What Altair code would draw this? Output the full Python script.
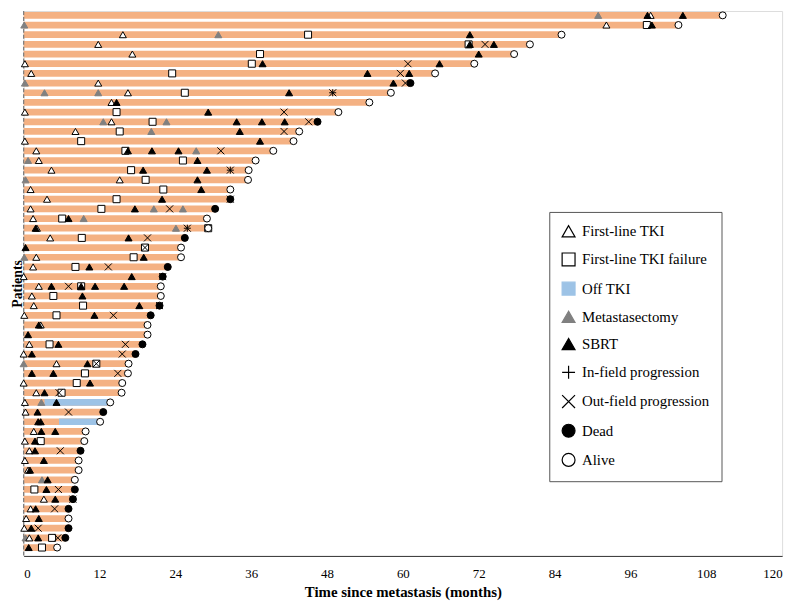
import altair as alt
import pandas as pd

# ---- data (months since metastasis) ----
end_time = [110.6, 103.6, 85.1, 80.1, 77.6, 71.3, 65.1, 61.2, 58.1, 54.7,
            49.8, 46.5, 43.6, 42.7, 39.5, 36.7, 35.6, 35.5, 32.7, 32.7,
            30.3, 29.0, 29.2, 25.5, 24.9, 24.9, 22.8, 22.0, 21.7, 21.7,
            21.5, 20.1, 19.6, 19.6, 18.8, 17.7, 16.6, 16.5, 15.6, 15.5,
            13.7, 12.6, 12.1, 9.8, 9.6, 9.0, 8.7, 8.7, 8.1, 8.1,
            7.8, 7.1, 7.1, 7.1, 6.6, 5.3]
end_status = ["Alive"] * 7 + ["Dead"] + ["Alive"] * 3 + ["Dead"] + ["Alive"] * 7 + \
             ["Dead", "Dead", "Alive", "Alive", "Dead", "Alive", "Alive", "Dead", "Dead",
              "Alive", "Alive", "Dead", "Dead", "Alive", "Alive", "Dead", "Dead",
              "Alive", "Alive", "Alive", "Alive", "Alive", "Dead", "Alive", "Alive", "Alive",
              "Dead", "Alive", "Alive", "Alive", "Dead", "Dead", "Dead", "Alive", "Dead", "Dead", "Alive"]

first_tki = [(1, 99.2), (2, 92.2), (3, 15.7), (4, 11.8), (5, 17.2), (6, 0.2), (7, 1.2),
             (8, 11.8), (9, 16.5), (10, 13.9), (11, 0.2), (12, 13.9), (13, 8.2), (14, 0.2),
             (15, 2.0), (16, 2.4), (17, 4.4), (18, 15.2), (19, 1.1), (20, 3.7), (21, 1.1),
             (22, 1.5), (23, 2.1), (24, 4.2), (26, 2.0), (27, 1.5), (28, 0.0), (29, 2.4),
             (30, 1.3), (31, 1.6), (32, 0.1), (33, 2.7), (35, 0.9), (36, 0.0), (37, 5.2),
             (39, 0.0), (40, 2.0), (41, 0.2), (42, 0.3), (44, 1.6), (45, 0.2), (46, 0.9),
             (47, 0.2), (48, 0.7), (51, 3.2), (52, 1.1), (53, 0.4), (54, 0.1), (55, 0.9)]

tki_failure = [(2, 98.6), (3, 45.0), (4, 70.4), (5, 37.4), (6, 36.1), (7, 23.5), (9, 25.5),
               (11, 14.7), (12, 20.4), (13, 15.2), (14, 9.1), (15, 16.1), (16, 25.2),
               (17, 17.0), (18, 19.3), (19, 22.1), (20, 14.7), (21, 12.3), (22, 6.1),
               (23, 29.2), (24, 9.2), (25, 19.2), (26, 17.4), (27, 8.2), (29, 9.1), (30, 4.7),
               (31, 9.4), (32, 5.2), (35, 4.1), (37, 11.5), (38, 9.7), (39, 8.4), (40, 6.0),
               (45, 2.7), (50, 1.7), (55, 4.5), (56, 2.9)]

off_tki_rows = [41, 43]
off_tki_start = [3.3, 5.6]
off_tki_end = [13.2, 11.7]

metastasectomy = [(1, 90.9), (2, 0.1), (3, 30.8), (7, 23.5), (8, 0.2), (9, 3.3), (9, 11.8),
                  (12, 12.6), (12, 22.6), (13, 20.2), (15, 27.3), (16, 0.7), (18, 0.3),
                  (21, 20.6), (21, 25.2), (22, 9.5), (23, 24.1), (24, 9.2), (26, 0.1),
                  (30, 4.7), (37, 0.0), (41, 2.8), (49, 2.9), (55, 0.3)]

sbrt = [(1, 98.7), (1, 104.3), (2, 99.4), (3, 70.6), (4, 70.6), (4, 74.4), (5, 72.0),
        (6, 37.8), (6, 65.8), (7, 54.4), (7, 61.0), (8, 58.5), (9, 42.0), (10, 14.7),
        (11, 29.2), (12, 33.7), (12, 37.7), (12, 41.3), (13, 34.2), (14, 37.4),
        (15, 16.5), (15, 20.3), (15, 24.5), (16, 27.5), (17, 18.9), (17, 29.0), (18, 27.5),
        (19, 28.1), (20, 21.9), (21, 17.6), (22, 7.1), (23, 1.9), (24, 16.6), (25, 0.3),
        (26, 19.0), (27, 10.4), (28, 17.1), (29, 4.4), (29, 9.1), (29, 11.3), (29, 15.9),
        (30, 9.3), (31, 18.3), (32, 11.2), (33, 2.4), (34, 0.7), (35, 5.5), (36, 1.3),
        (37, 10.1), (38, 1.3), (38, 4.7), (39, 10.5), (40, 3.3), (41, 5.2), (42, 2.2),
        (43, 2.3), (43, 2.7), (44, 2.8), (44, 5.0), (45, 1.8), (46, 1.8), (47, 3.2),
        (48, 1.0), (49, 3.8), (50, 3.6), (51, 5.0), (52, 1.9), (53, 2.4), (54, 1.2),
        (55, 2.3), (56, 0.8)]

in_field = [(9, 48.9), (17, 32.7), (23, 25.9)]

out_field = [(4, 73.0), (6, 60.8), (7, 59.6), (8, 60.4), (9, 48.9), (11, 41.2), (12, 45.1),
             (13, 41.2), (15, 31.2), (17, 32.7), (20, 32.7), (21, 23.1), (23, 25.9),
             (24, 19.6), (25, 19.2), (27, 13.4), (28, 22.0), (29, 7.1), (31, 21.5),
             (32, 14.2), (35, 16.1), (36, 15.6), (37, 11.5), (38, 14.9), (40, 5.6),
             (42, 7.1), (46, 5.8), (50, 5.5), (51, 7.8), (52, 4.9), (54, 2.3), (55, 5.4)]

legend_names = ["First-line TKI", "First-line TKI failure", "Off TKI", "Metastasectomy", "SBRT",
                "In-field progression", "Out-field progression", "Dead", "Alive"]

# ---- tables ----
rows = list(range(1, len(end_time) + 1))
bars = pd.DataFrame({"row": rows, "start": [0.0] * len(rows), "end": end_time})
off = pd.DataFrame({"row": off_tki_rows, "start": off_tki_start, "end": off_tki_end})

recs = []
for name, lst in [("Metastasectomy", metastasectomy), ("First-line TKI failure", tki_failure),
                  ("First-line TKI", first_tki), ("SBRT", sbrt),
                  ("In-field progression", in_field), ("Out-field progression", out_field)]:
    for r, t in lst:
        recs.append({"row": r, "time": t, "event": name})
for r, t, s in zip(rows, end_time, end_status):
    recs.append({"row": r, "time": t, "event": s})
events = pd.DataFrame(recs)

FONT = "Liberation Serif"
BAR = "#F4B183"
BLUE = "#9DC3E6"
GREY = "#808080"

shape_range = ["triangle-up", "square", "square", "triangle-up", "triangle-up",
               "M-1,0L1,0M0,-1L0,1", "M-1,-1L1,1M-1,1L1,-1", "circle", "circle"]
fill_range = ["white", "white", BLUE, GREY, "black", "transparent", "transparent", "black", "white"]
stroke_range = ["black", "black", BLUE, GREY, "black", "black", "black", "black", "black"]

x_scale = alt.Scale(domain=[0, 120], nice=False, zero=False)
y_scale = alt.Scale(domain=[0.55, 56.867], reverse=True, nice=False, zero=False)

x_axis = alt.Axis(values=list(range(0, 121, 12)), title="Time since metastasis (months)",
                  grid=False, ticks=False, domainColor="#333333", domainWidth=1,
                  labelFont=FONT, labelFontSize=13, labelColor="black", labelPadding=12,
                  titleFont=FONT, titleFontSize=15, titleFontWeight="bold", titleColor="black",
                  titlePadding=4)
y_axis = alt.Axis(title="Patients", labels=False, ticks=False, domain=False, grid=False,
                  titleFont=FONT, titleFontSize=14, titleFontWeight="bold", titleColor="black",
                  titleX=-2, titleBaseline="alphabetic")

bar_layer = alt.Chart(bars).mark_rule(strokeWidth=6.8, color=BAR).encode(
    x=alt.X("start:Q", scale=x_scale, axis=x_axis),
    x2="end:Q",
    y=alt.Y("row:Q", scale=y_scale, axis=y_axis),
)

off_layer = alt.Chart(off).mark_rule(strokeWidth=6.8, color=BLUE).encode(
    x=alt.X("start:Q", scale=x_scale), x2="end:Q", y=alt.Y("row:Q", scale=y_scale)
)

zero_line = alt.Chart(pd.DataFrame({"t": [0.0]})).mark_rule(
    color=GREY, strokeDash=[4, 2], strokeWidth=1.3
).encode(x=alt.X("t:Q", scale=x_scale))

leg = alt.Legend(orient="none", legendX=531, legendY=203, symbolSize=170,
                 symbolStrokeWidth=1.2, labelFont=FONT, labelFontSize=15, labelColor="black",
                 rowPadding=10.5, padding=12, strokeColor="#555555", fillColor="white",
                 labelOffset=6, labelLimit=300)

marker_layer = alt.Chart(events).mark_point(size=50, strokeWidth=1, opacity=1).encode(
    x=alt.X("time:Q", scale=x_scale),
    y=alt.Y("row:Q", scale=y_scale),
    shape=alt.Shape("event:N", title="", scale=alt.Scale(domain=legend_names, range=shape_range), legend=leg),
    fill=alt.Fill("event:N", title="", scale=alt.Scale(domain=legend_names, range=fill_range), legend=leg),
    stroke=alt.Stroke("event:N", title="", scale=alt.Scale(domain=legend_names, range=stroke_range), legend=leg),
)

chart = alt.layer(bar_layer, off_layer, zero_line, marker_layer).properties(
    width=766.2, height=550.5,
    padding={"left": 15.8, "top": 0, "right": 10, "bottom": 42},
    autosize="none",
    background="white",
).configure_view(stroke="transparent").configure(font=FONT)

chart.save("out.html", embed_options={"renderer": "svg", "actions": False})
